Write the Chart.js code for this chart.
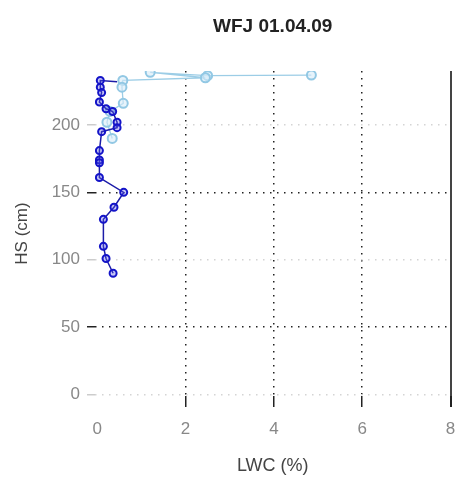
<!DOCTYPE html>
<html>
<head>
<meta charset="utf-8">
<script src="https://cdn.jsdelivr.net/npm/chart.js@4/dist/chart.umd.min.js"></script>
<style>
html,body{margin:0;padding:0;background:#fff;}
#wrap{width:457px;height:486px;}
</style>
</head>
<body>
<div id="wrap"><canvas id="c" width="457" height="486"></canvas></div>
<script>
// LWC (%) and HS (cm), dark blue profile
const darkLWC = [0.45, 0.07, 0.07, 0.10, 0.05, 0.20, 0.35, 0.45, 0.45, 0.10, 0.05, 0.05, 0.05, 0.05, 0.60, 0.38, 0.14, 0.14, 0.20, 0.36];
const darkHS  = [232, 233, 228, 224, 217, 212, 210, 202, 198, 195, 181, 174, 172, 161, 150, 139, 130, 110, 101, 90];
// light blue profile
const lightLWC = [4.85, 2.50, 1.20, 2.45, 0.58, 0.56, 0.59, 0.29, 0.22, 0.34];
const lightHS  = [237, 236.5, 239, 235, 233, 228, 216, 210, 202, 190];
const xTicks = [0, 2, 4, 6, 8];
const yTicks = [0, 50, 100, 150, 200];

const toPts = (xs, ys) => xs.map((x, i) => ({x: x, y: ys[i]}));

const FONT = "'Liberation Sans', Arial, sans-serif";

// centre the title over the plotting area (as in the reference)
const centerTitle = {
  id: 'centerTitle',
  afterLayout(chart) {
    const t = chart.titleBlock;
    if (t) { t.left = chart.chartArea.left; t.right = chart.chartArea.right; }
  }
};

new Chart(document.getElementById('c'), {
  type: 'scatter',
  plugins: [centerTitle],
  data: {
    datasets: [
      {
        data: toPts(darkLWC, darkHS),
        showLine: true,
        borderColor: '#1c1ca8',
        borderWidth: 1.5,
        pointBorderColor: '#1414c8',
        pointBackgroundColor: 'rgba(90,90,230,0.35)',
        pointBorderWidth: 2,
        pointRadius: darkHS.map((v, i) => i === 0 ? 0 : 3.5),
        tension: 0
      },
      {
        data: toPts(lightLWC, lightHS),
        showLine: true,
        borderColor: '#9ccde6',
        borderWidth: 1.3,
        pointBorderColor: '#92c8e4',
        pointBackgroundColor: 'rgba(215,235,248,0.6)',
        pointBorderWidth: 2,
        pointRadius: 4.5,
        tension: 0
      }
    ]
  },
  options: {
    responsive: false,
    animation: false,
    events: [],
    layout: {padding: {top: 0, right: 5, bottom: 0, left: 0}},
    plugins: {
      legend: {display: false},
      tooltip: {enabled: false},
      title: {
        display: true,
        text: 'WFJ 01.04.09',
        color: '#222',
        font: {family: FONT, size: 19, weight: 'bold'},
        padding: {top: 15.6, bottom: 32.6}
      }
    },
    scales: {
      x: {
        type: 'linear',
        min: -0.05,
        max: 8,
        afterBuildTicks: (s) => { s.ticks = xTicks.map(v => ({value: v})); },
        afterFit: (s) => { s.height = 90; s.paddingRight = 0; s.paddingLeft = 0; },
        border: {
          display: false,
          dash: (ctx) => (ctx.tick && ctx.tick.value === 8) ? [] : [1.5, 5.5]
        },
        grid: {
          drawTicks: true,
          tickLength: 11,
          color: (ctx) => {
            const v = ctx.tick && ctx.tick.value;
            if (v === 0) return 'rgba(0,0,0,0)';
            if (v === 8) return '#444';
            return '#222';
          },
          tickColor: (ctx) => {
            const v = ctx.tick && ctx.tick.value;
            return v === 0 ? 'rgba(0,0,0,0)' : '#222';
          },
          lineWidth: (ctx) => (ctx.tick && ctx.tick.value === 8) ? 2 : 1.5
        },
        ticks: {
          color: '#888',
          padding: 12,
          font: {family: FONT, size: 17},
          callback: (v) => String(v)
        },
        title: {
          display: true,
          text: 'LWC (%)',
          color: '#444',
          font: {family: FONT, size: 18},
          padding: {top: 4, bottom: 9}
        }
      },
      y: {
        type: 'linear',
        min: -1,
        max: 240,
        afterBuildTicks: (s) => { s.ticks = yTicks.map(v => ({value: v})); },
        afterFit: (s) => { s.width = 95; },
        border: {display: false, dash: [1.5, 5.5]},
        grid: {
          drawTicks: true,
          tickLength: 8,
          color: (ctx) => {
            const v = ctx.tick && ctx.tick.value;
            return (v === 50 || v === 150) ? '#222' : '#d4d4d4';
          },
          tickColor: (ctx) => {
            const v = ctx.tick && ctx.tick.value;
            return (v === 50 || v === 150) ? '#222' : '#ccc';
          },
          lineWidth: 1.5
        },
        ticks: {
          color: '#888',
          padding: 7,
          font: {family: FONT, size: 17},
          callback: (v) => String(v)
        },
        title: {
          display: true,
          text: 'HS (cm)',
          color: '#444',
          font: {family: FONT, size: 17},
          padding: {top: 12, bottom: 4}
        }
      }
    }
  }
});
</script>
</body>
</html>
